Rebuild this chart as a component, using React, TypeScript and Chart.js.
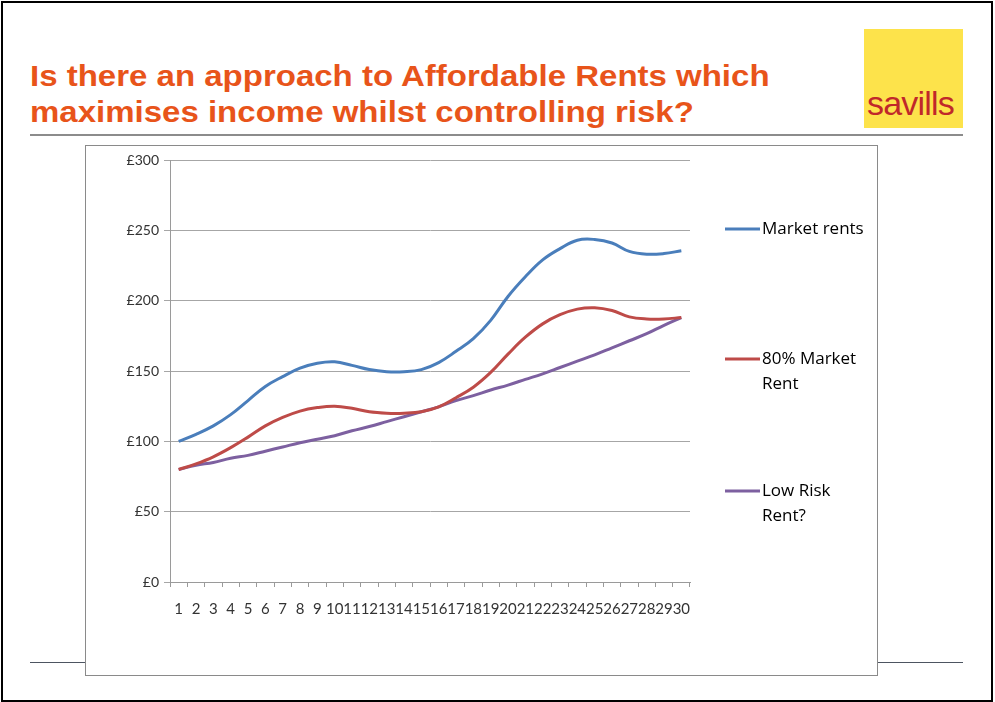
import React, { useEffect, useRef } from "react";
import { Chart, registerables } from "chart.js";

Chart.register(...registerables);

const categories = [
  "1", "2", "3", "4", "5", "6", "7", "8", "9", "10",
  "11", "12", "13", "14", "15", "16", "17", "18", "19", "20",
  "21", "22", "23", "24", "25", "26", "27", "28", "29", "30",
];

const marketRents = [
  100, 105, 111, 119, 129, 139, 146, 152, 155.5, 156.5,
  154, 151, 149.5, 149.5, 151, 156, 164, 173, 186, 203,
  217, 229, 237, 243, 243.5, 241, 235, 233, 233.5, 235.5,
];

const eightyPctMarket = [
  80, 84, 89, 95.5, 103, 111, 117, 121.5, 124, 125,
  123.5, 121, 120, 120, 121, 124.5, 131, 138.5, 149, 162,
  174, 183.5, 190, 194, 195, 193, 188.5, 187, 187, 188,
];

const lowRisk = [
  80, 83, 85, 88, 90, 93, 96, 99, 101.5, 104,
  107.5, 110.5, 114, 117.5, 121, 124.5, 129, 132.5, 136.5, 140,
  144, 148, 152.5, 157, 161.5, 166.5, 171.5, 176.5, 182.5, 188,
];

const yTickValues = [0, 50, 100, 150, 200, 250, 300];

const seriesNames = ["Market rents", "80% Market Rent", "Low Risk Rent?"];
const legendLines = [["Market rents"], ["80% Market", "Rent"], ["Low Risk", "Rent?"]];
const seriesColors = ["#4A7EBB", "#BE4B48", "#7D60A0"];

const titleLines = [
  "Is there an approach to Affordable Rents which",
  "maximises income whilst controlling risk?",
];

const legendPlugin = {
  id: "excelLegend",
  afterDraw(chart: any) {
    const ctx = chart.ctx;
    const ys = [83, 213, 345];
    ctx.save();
    ctx.font = "17px 'Open Sans'";
    ctx.textBaseline = "middle";
    ctx.fillStyle = "#000000";
    legendLines.forEach((lines, i) => {
      const y = ys[i];
      ctx.strokeStyle = seriesColors[i];
      ctx.lineWidth = 3;
      ctx.beginPath();
      ctx.moveTo(639, y);
      ctx.lineTo(674, y);
      ctx.stroke();
      lines.forEach((t, j) => {
        ctx.fillText(t, 676, y + j * 25);
      });
    });
    ctx.restore();
  },
};

function RentChart() {
  const ref = useRef<HTMLCanvasElement | null>(null);
  useEffect(() => {
    if (!ref.current) return;
    const data = [marketRents, eightyPctMarket, lowRisk];
    const chart = new Chart(ref.current, {
      type: "line",
      data: {
        labels: categories,
        datasets: data.map((d, i) => ({
          label: seriesNames[i],
          data: d,
          borderColor: seriesColors[i],
          backgroundColor: seriesColors[i],
          borderWidth: 3,
          pointRadius: 0,
          tension: 0.4,
          fill: false,
        })),
      },
      options: {
        animation: false,
        responsive: false,
        maintainAspectRatio: false,
        layout: { padding: { top: 14, right: 187, left: 0, bottom: 0 } },
        plugins: {
          legend: { display: false },
          tooltip: { enabled: false },
        },
        scales: {
          x: {
            type: "category",
            offset: true,
            grid: {
              offset: true,
              drawOnChartArea: false,
              drawTicks: true,
              tickLength: 5,
              color: "#9a9a9a",
            },
            border: { color: "#9a9a9a", width: 1 },
            ticks: {
              autoSkip: false,
              maxRotation: 0,
              minRotation: 0,
              padding: 13,
              color: "#333333",
              font: { family: "Lato", size: 15 },
            },
            afterFit(scale: any) {
              scale.height = 93;
            },
          },
          y: {
            min: 0,
            max: 300,
            afterBuildTicks(scale: any) {
              scale.ticks = yTickValues.map((v) => ({ value: v }));
            },
            grid: {
              color: "#a6a6a6",
              lineWidth: 1,
              tickLength: 6,
              drawTicks: true,
            },
            border: { color: "#9a9a9a", width: 1 },
            ticks: {
              padding: 5,
              color: "#333333",
              font: { family: "Lato", size: 14 },
              callback: (v: any) => "£" + v,
            },
            afterFit(scale: any) {
              scale.width = 84;
            },
          },
        },
      },
      plugins: [legendPlugin],
    });
    return () => chart.destroy();
  }, []);
  return <canvas ref={ref} width={791} height={529} style={{ display: "block" }} />;
}

export default function App() {
  useEffect(() => {
    document.body.style.margin = "0";
  }, []);
  return (
    <div style={{ position: "relative", width: 995, height: 702, background: "#ffffff", overflow: "hidden" }}>
      <div
        style={{
          position: "absolute",
          left: 1,
          top: 1,
          width: 988,
          height: 697,
          border: "2px solid #000000",
        }}
      />
      <div
        style={{
          position: "absolute",
          left: 30,
          top: 58,
          fontFamily: "'Liberation Sans', Arial, sans-serif",
          fontWeight: "bold",
          fontSize: 30,
          lineHeight: "36px",
          color: "#E8541A",
          whiteSpace: "nowrap",
          transform: "scaleX(1.1)",
          transformOrigin: "0 0",
        }}
      >
        {titleLines.map((t, i) => (
          <div key={i}>{t}</div>
        ))}
      </div>
      <div
        style={{
          position: "absolute",
          left: 864,
          top: 29,
          width: 99,
          height: 99,
          background: "#FDE34B",
        }}
      >
        <div
          style={{
            position: "absolute",
            left: 3,
            top: 57,
            fontFamily: "'Liberation Sans', Arial, sans-serif",
            fontSize: 34,
            lineHeight: "34px",
            color: "#C0282A",
            letterSpacing: -0.8,
          }}
        >
          savills
        </div>
      </div>
      <div style={{ position: "absolute", left: 30, top: 134, width: 933, height: 2, background: "#8c8c8c" }} />
      <div style={{ position: "absolute", left: 30, top: 662, width: 933, height: 1, background: "#4d5561" }} />
      <div
        style={{
          position: "absolute",
          left: 85,
          top: 145,
          width: 791,
          height: 529,
          border: "1px solid #8a8a8a",
          background: "#ffffff",
        }}
      >
        <RentChart />
      </div>
    </div>
  );
}
